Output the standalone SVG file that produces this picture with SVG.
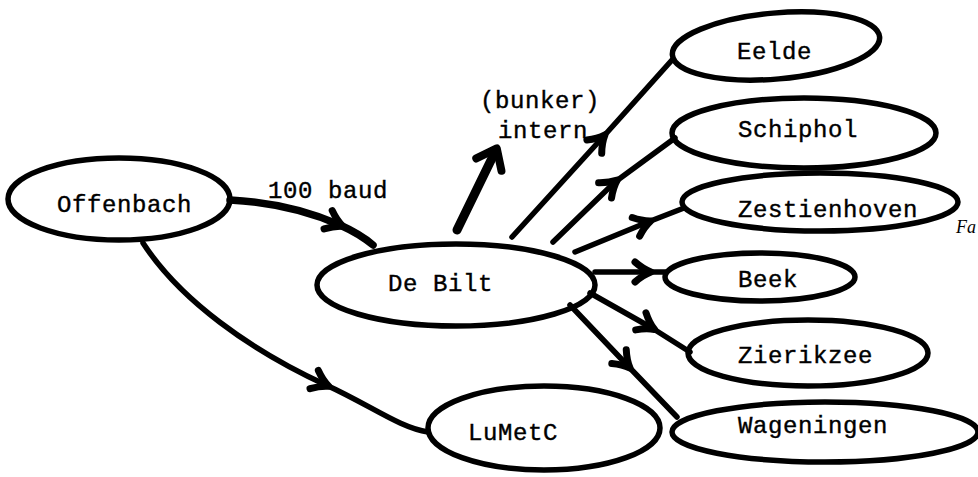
<svg xmlns="http://www.w3.org/2000/svg" width="978" height="477" viewBox="0 0 978 477">
<style>
.node{fill:none;stroke:#000;stroke-width:5.5}
.lbl{font-family:"Liberation Mono","DejaVu Sans Mono",monospace;font-size:24px;letter-spacing:0.6px;fill:#000;stroke:#000;stroke-width:0.4}
.edge{fill:none;stroke:#000;stroke-width:5.5;stroke-linecap:round;stroke-linejoin:round}
.mid{marker-mid:url(#chev)}
</style>
<defs>
<marker id="chev" markerUnits="userSpaceOnUse" viewBox="-20 -15 30 30" markerWidth="30" markerHeight="30" refX="0" refY="0" orient="auto" overflow="visible">
<path d="M-13,-10 Q-5,-3 3,0 Q-5,3 -13,10" fill="none" stroke="#000" stroke-width="7" stroke-linecap="round" stroke-linejoin="round"/>
</marker>
<marker id="big" markerUnits="userSpaceOnUse" viewBox="-20 -15 30 30" markerWidth="30" markerHeight="30" refX="0" refY="0" orient="auto" overflow="visible">
<path d="M-14,-14 L4,0 L-14,14" fill="none" stroke="#000" stroke-width="8" stroke-linecap="round" stroke-linejoin="round"/>
</marker>
</defs>

<g id="connectors">
<path class="edge mid" style="stroke-width:7.5" d="M230,200 Q290,203 340,225 Q360,234 373,245"/>
<path class="edge mid" d="M143,243 C180,300 250,350 326,385 C370,405 400,428 428,432"/>
<path class="edge" style="stroke-width:9;marker-end:url(#big)" d="M457,230 L495,152"/>
<path class="edge mid" d="M512,237 L603,137 L672,60"/>
<path class="edge mid" d="M553,242 L615,182 L675,138"/>
<path class="edge mid" d="M575,252 L648,222 L684,208"/>
<path class="edge mid" d="M595,272 L648,272 L666,272"/>
<path class="edge mid" d="M590,293 L652,328 L690,352"/>
<path class="edge mid" d="M570,305 L628,366 L677,417"/>
<text class="lbl" x="268" y="198">100 baud</text>
<text class="lbl" x="480" y="108">(bunker)</text>
<text class="lbl" x="498" y="138">intern</text>
</g>

<g id="offenbach"><ellipse class="node" cx="119" cy="199" rx="111" ry="41"/><text class="lbl" x="57" y="212">Offenbach</text></g>
<g id="debilt"><ellipse class="node" cx="456" cy="285" rx="139" ry="41"/><text class="lbl" x="388" y="291">De Bilt</text></g>
<g id="lumetc"><ellipse class="node" cx="544" cy="428" rx="116" ry="42"/><text class="lbl" x="468" y="440">LuMetC</text></g>
<g id="eelde"><ellipse class="node" cx="776" cy="46" rx="104" ry="33" transform="rotate(-5 776 46)"/><text class="lbl" x="737" y="59">Eelde</text></g>
<g id="schiphol"><ellipse class="node" cx="804" cy="133" rx="132" ry="35"/><text class="lbl" x="738" y="137">Schiphol</text></g>
<g id="zestienhoven"><ellipse class="node" cx="820" cy="202" rx="138" ry="29"/><text class="lbl" x="738" y="217">Zestienhoven</text></g>
<g id="beek"><ellipse class="node" cx="760" cy="277" rx="95" ry="24"/><text class="lbl" x="738" y="287">Beek</text></g>
<g id="zierikzee"><ellipse class="node" cx="808" cy="353" rx="120" ry="33"/><text class="lbl" x="738" y="363">Zierikzee</text></g>
<g id="wageningen"><ellipse class="node" cx="825" cy="432" rx="153" ry="30"/><text class="lbl" x="738" y="433">Wageningen</text></g>

<text x="956" y="233" font-family="Liberation Serif,serif" font-style="italic" font-size="18">Fa</text>
</svg>
